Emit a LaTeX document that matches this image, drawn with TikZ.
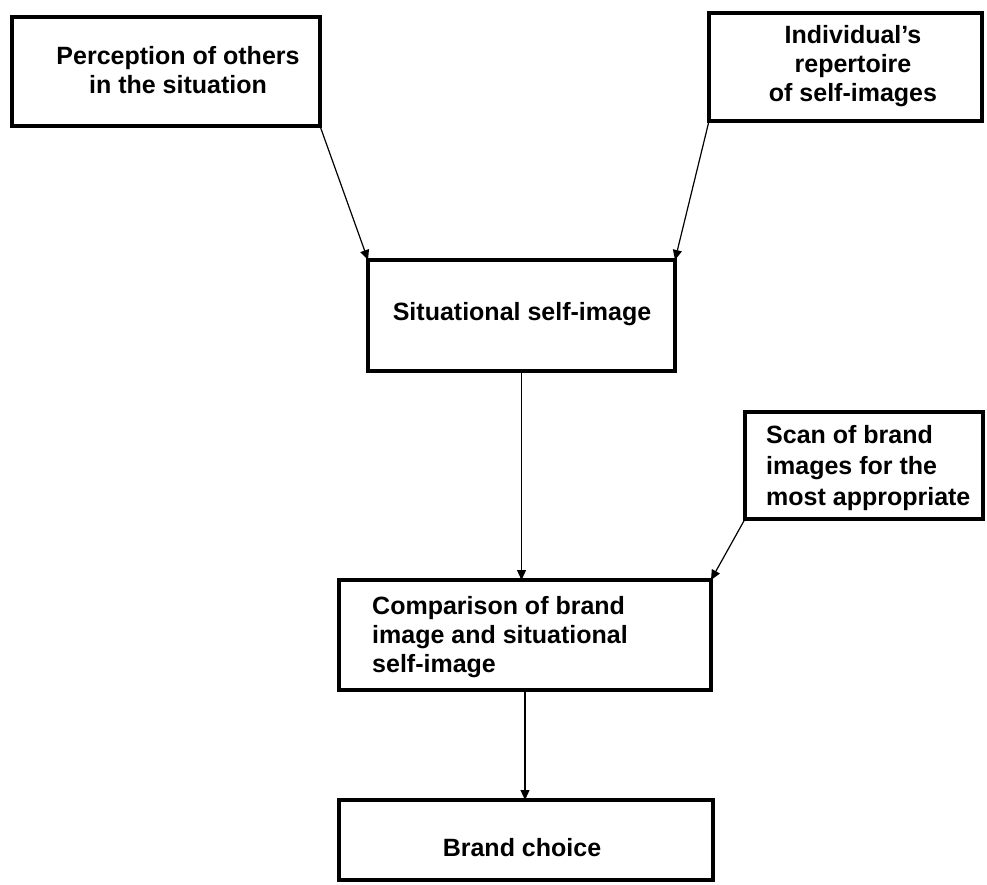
\documentclass[tikz,border=0pt]{standalone}
\usepackage{fontspec}
\setmainfont{Liberation Sans}
\usetikzlibrary{arrows.meta}
\begin{document}
\begin{tikzpicture}[x=1pt,y=-1pt,
  box/.style={draw, line width=4pt, inner sep=0pt, outer sep=0pt},
  txt/.style={inner sep=0pt, font=\fontsize{25}{29}\selectfont\bfseries},
  conn/.style={line width=1.2pt, -{Triangle[length=10pt,width=9pt]}}]
\useasboundingbox (0,0) rectangle (987,885);
% boxes
\node[box, minimum width=308pt, minimum height=109pt] (perc) at (166,71.5) {};
\node[box, minimum width=273pt, minimum height=108pt] (indiv) at (845.5,67) {};
\node[box, minimum width=307pt, minimum height=111pt] (sit) at (521.5,315.5) {};
\node[box, minimum width=238pt, minimum height=107pt] (scan) at (864,465.5) {};
\node[box, minimum width=372pt, minimum height=110pt] (comp) at (525,635) {};
\node[box, minimum width=374pt, minimum height=80pt] (brand) at (526,840) {};
% texts
\node[txt, align=center] (perc-t) at (178,70) {Perception of others\\in the situation};
\node[txt, align=center] (indiv-t) at (853,66) {Individual's\\repertoire\\of self-images};
\node[txt] (sit-t) at (522,314) {Situational self-image};
\node[txt, align=left, anchor=west, font=\fontsize{25}{31}\selectfont\bfseries] (scan-t) at (766,468) {Scan of brand\\images for the\\most appropriate};
\node[txt, align=left, anchor=west] (comp-t) at (372,637) {Comparison of brand\\image and situational\\self-image};
\node[txt] (brand-t) at (522,848) {Brand choice};
% connectors
\draw[conn] (perc.south east) -- (sit.north west);
\draw[conn] (indiv.south west) -- (sit.north east);
\draw[conn] (sit.south) -- (sit.south |- comp.north);
\draw[conn] (scan.south west) -- (comp.north east);
\draw[conn] (comp.south) -- (comp.south |- brand.north);
\end{tikzpicture}
\end{document}
